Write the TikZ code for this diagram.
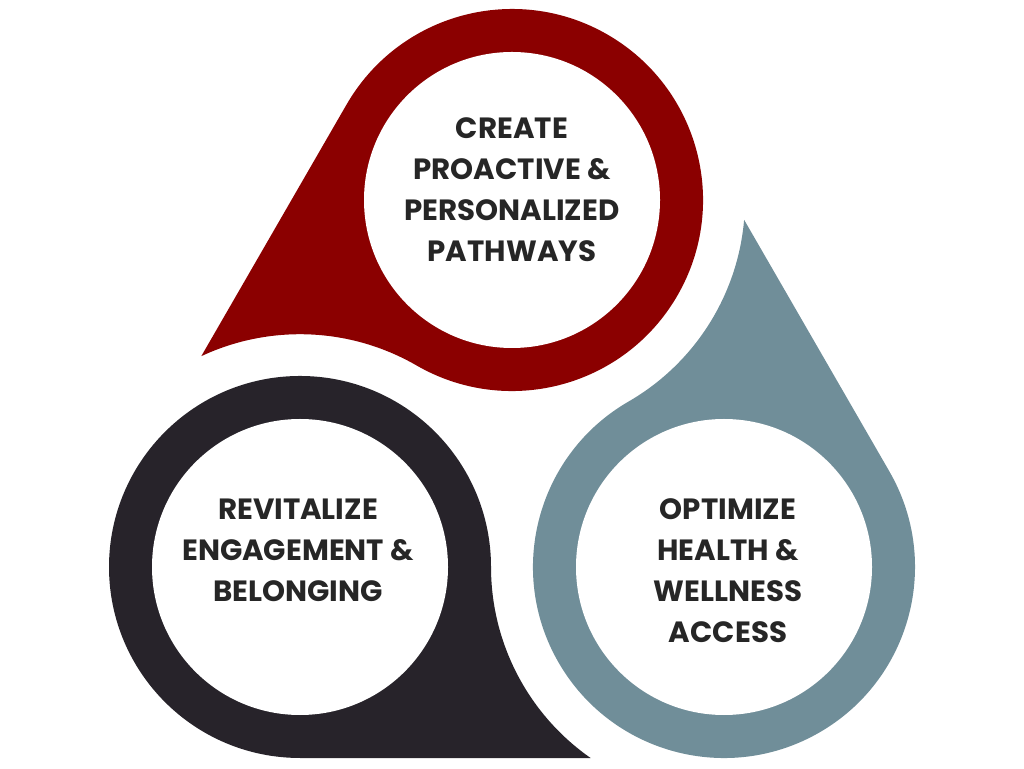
\documentclass[tikz,border=0pt]{standalone}
\usepackage{fontspec}
\setmainfont{Poppins}
\definecolor{dropred}{RGB}{139,0,0}
\definecolor{dropdark}{RGB}{39,35,42}
\definecolor{dropblue}{RGB}{112,142,153}
\definecolor{droptext}{RGB}{38,38,38}
\usetikzlibrary{positioning}

\begin{document}
\begin{tikzpicture}[x=1pt,y=1pt,
  hole/.style={circle,fill=white,minimum size=296pt,inner sep=0pt},
  goal/.style={font=\bfseries\fontsize{29.3}{41}\selectfont,text=droptext,align=center}]
  \useasboundingbox (0,0) rectangle (1024,768);
  % centres of the three drops
  \coordinate (cdark) at (300,201);
  \coordinate (cblue) at (724,201);
  \coordinate (cred) at (512,568);
  % drop = circle plus a tail that bends round the next drop
  \foreach \c/\col/\rot in {cdark/dropdark/0,cblue/dropblue/120,cred/dropred/240}
    \fill[\col,shift={(\c)},rotate=\rot] (0,-191) -- (290.6,-191)
      arc[start angle=235.07,end angle=180,radius=233]
      arc[start angle=0,end angle=270,radius=191] -- cycle;
  \node[hole] (hred) at (cred) {};
  \node[hole] (hdark) at (cdark) {};
  \node[hole] (hblue) at (cblue) {};
  \node[goal] (tred) at (512,578) {CREATE\\PROACTIVE \&\\PERSONALIZED\\PATHWAYS};
  \node[goal] (tdark) at (298,218) {REVITALIZE\\ENGAGEMENT \&\\BELONGING};
  \node[goal] (tblue) at (728,197) {OPTIMIZE\\HEALTH \&\\WELLNESS\\ACCESS};
\end{tikzpicture}
\end{document}
